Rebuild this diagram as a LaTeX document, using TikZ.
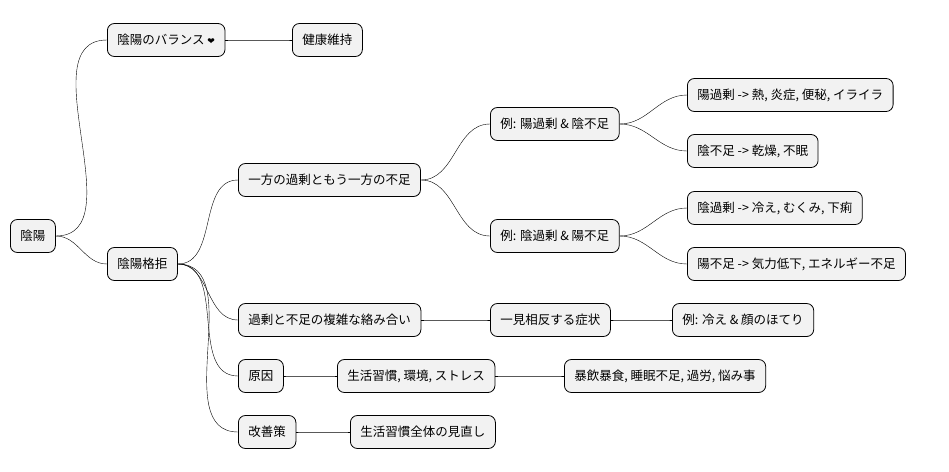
\documentclass[tikz,border=0pt]{standalone}
\usepackage{fontspec}
\setmainfont{Noto Sans CJK JP}
\newfontfamily\heartfont{DejaVu Sans}
\usetikzlibrary{positioning}

\tikzset{
  idea/.style={draw=black, fill=gray!10, rounded corners=7pt, thick,
    minimum height=33pt, inner xsep=10pt, anchor=west,
    font=\fontsize{12.5}{15}\selectfont},
  branch/.style={thin, black}
}

\begin{document}
\begin{tikzpicture}[x=1pt, y=-1pt]
        \useasboundingbox (0,0) rectangle (949,471);

        % Root and first level
        \node[idea] (root) at (10,236) {陰陽};
        \node[idea] (balance) at (107,40) {陰陽のバランス {\heartfont\small ❤}};
        \node[idea] (health) at (292,40) {健康維持};
        \node[idea] (gekyo) at (107,264) {陰陽格拒};

        % Excess and deficiency
        \node[idea] (onesided) at (238,180) {一方の過剰ともう一方の不足};
        \node[idea] (exA) at (490,124) {例: 陽過剰 \& 陰不足};
        \node[idea] (yangex) at (687,95) {陽過剰 -> 熱, 炎症, 便秘, イライラ};
        \node[idea] (yinlack) at (687,151) {陰不足 -> 乾燥, 不眠};
        \node[idea] (exB) at (490,236) {例: 陰過剰 \& 陽不足};
        \node[idea] (yinex) at (687,208) {陰過剰 -> 冷え, むくみ, 下痢};
        \node[idea] (yanglack) at (687,264) {陽不足 -> 気力低下, エネルギー不足};

        % Complex entanglement
        \node[idea] (complex) at (238,320) {過剰と不足の複雑な絡み合い};
        \node[idea] (contra) at (490,320) {一見相反する症状};
        \node[idea] (exC) at (672,320) {例: 冷え \& 顔のほてり};

        % Causes
        \node[idea] (cause) at (238,376) {原因};
        \node[idea] (life) at (337,376) {生活習慣, 環境, ストレス};
        \node[idea] (habits) at (564,376) {暴飲暴食, 睡眠不足, 過労, 悩み事};

        % Remedy
        \node[idea] (remedy) at (238,432) {改善策};
        \node[idea] (review) at (350,432) {生活習慣全体の見直し};

        % Connectors
        \foreach \a/\b in {root/balance, root/gekyo, balance/health,
            gekyo/onesided, gekyo/complex, gekyo/cause, gekyo/remedy,
            onesided/exA, onesided/exB, exA/yangex, exA/yinlack,
            exB/yinex, exB/yanglack, complex/contra, contra/exC,
            cause/life, life/habits, remedy/review}
          \draw[branch] (\a.east) to[out=0, in=180] (\b.west);
\end{tikzpicture}
\end{document}
